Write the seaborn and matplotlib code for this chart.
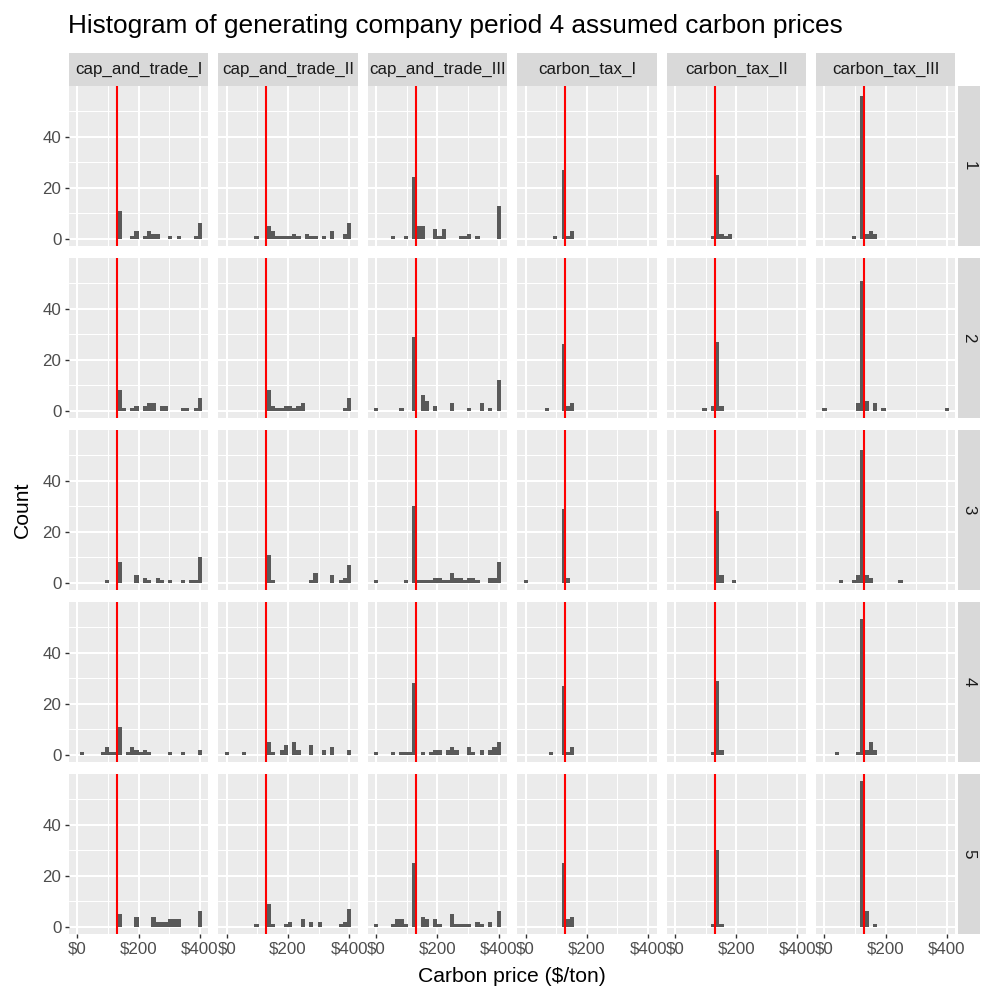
import numpy as np
import pandas as pd
import matplotlib
matplotlib.use("Agg")
import matplotlib.pyplot as plt
import seaborn as sns

# ---- data -------------------------------------------------------------
scenarios = ["cap_and_trade_I", "cap_and_trade_II", "cap_and_trade_III",
             "carbon_tax_I", "carbon_tax_II", "carbon_tax_III"]
periods = [1, 2, 3, 4, 5]

# true period-4 carbon price ($/ton), drawn as the red reference line
actual_price = 129

# histogram layout: 30 equal bins whose centres run from $0 to $400
n_bins = 30
price_min, price_max = 0, 400

# counts of assumed prices per bin index (0..29), keyed by period
cap_and_trade_I = {
    1: {10: 11, 13: 1, 14: 3, 16: 1, 17: 3, 18: 2, 19: 2, 22: 1, 24: 1, 28: 1, 29: 6},
    2: {10: 8, 11: 1, 13: 1, 14: 2, 16: 2, 17: 3, 18: 3, 20: 2, 21: 2, 25: 1, 26: 1, 28: 1, 29: 5},
    3: {7: 1, 10: 8, 14: 3, 16: 2, 17: 1, 19: 2, 20: 1, 22: 1, 25: 1, 27: 1, 28: 1, 29: 10},
    4: {1: 1, 6: 1, 7: 3, 8: 1, 9: 1, 10: 11, 12: 1, 13: 3, 14: 2, 15: 1, 16: 2, 17: 1, 22: 1, 25: 1, 29: 2},
    5: {10: 5, 14: 4, 18: 4, 19: 2, 20: 2, 21: 2, 22: 3, 23: 3, 24: 3, 29: 6},
}
cap_and_trade_II = {
    1: {7: 1, 10: 5, 11: 3, 12: 1, 13: 1, 14: 1, 15: 1, 16: 2, 17: 1, 19: 2, 20: 1, 21: 1, 23: 1, 25: 3, 28: 2, 29: 6},
    2: {10: 8, 11: 2, 12: 1, 13: 1, 14: 2, 15: 2, 16: 1, 17: 2, 18: 3, 28: 1, 29: 5},
    3: {10: 11, 11: 1, 20: 1, 21: 4, 25: 3, 27: 1, 28: 2, 29: 7},
    4: {0: 1, 4: 1, 10: 5, 11: 1, 13: 2, 14: 4, 16: 5, 17: 2, 20: 4, 23: 2, 25: 3, 29: 2},
    5: {7: 1, 10: 9, 11: 1, 14: 1, 15: 2, 18: 3, 20: 2, 22: 2, 27: 1, 28: 2, 29: 7},
}
cap_and_trade_III = {
    1: {4: 1, 7: 1, 9: 24, 10: 5, 11: 5, 14: 4, 15: 1, 16: 4, 20: 1, 21: 1, 22: 2, 24: 1, 29: 13},
    2: {0: 1, 6: 1, 9: 29, 11: 6, 12: 4, 14: 2, 18: 3, 22: 1, 25: 3, 27: 1, 29: 12},
    3: {0: 1, 7: 1, 9: 30, 10: 1, 11: 1, 12: 1, 13: 1, 14: 2, 15: 2, 16: 1, 17: 1, 18: 4, 19: 2,
        20: 2, 21: 1, 22: 2, 23: 2, 24: 1, 27: 2, 28: 2, 29: 8},
    4: {0: 1, 4: 1, 6: 1, 7: 1, 8: 1, 9: 28, 11: 1, 13: 1, 14: 2, 15: 2, 17: 2, 18: 3, 19: 2,
        22: 3, 23: 1, 25: 2, 27: 2, 28: 3, 29: 5},
    5: {0: 1, 4: 1, 5: 3, 6: 3, 7: 1, 9: 25, 11: 4, 12: 3, 14: 3, 15: 1, 18: 5, 19: 1, 20: 1,
        21: 1, 22: 1, 24: 2, 25: 1, 27: 2, 29: 6},
}
carbon_tax_I = {
    1: {7: 1, 9: 27, 10: 1, 11: 3},
    2: {5: 1, 9: 26, 10: 2, 11: 3},
    3: {0: 1, 9: 29, 10: 2},
    4: {6: 1, 9: 27, 10: 1, 11: 3},
    5: {9: 25, 10: 3, 11: 4},
}
carbon_tax_II = {
    1: {9: 1, 10: 25, 11: 2, 12: 1, 13: 2},
    2: {7: 1, 9: 2, 10: 27, 11: 2},
    3: {10: 28, 11: 3, 14: 1},
    4: {9: 1, 10: 29, 11: 2},
    5: {9: 1, 10: 30, 11: 1},
}
carbon_tax_III = {
    1: {7: 1, 9: 56, 10: 2, 11: 3, 12: 2},
    2: {0: 1, 8: 3, 9: 51, 10: 4, 12: 3, 14: 1, 29: 1},
    3: {4: 1, 7: 1, 8: 3, 9: 52, 10: 3, 11: 2, 18: 1},
    4: {3: 1, 8: 1, 9: 53, 10: 2, 11: 5, 12: 2},
    5: {9: 57, 10: 6, 12: 1},
}

x_breaks = [0, 200, 400]
x_labels = ["$0", "$200", "$400"]
y_breaks = [0, 20, 40]

title = "Histogram of generating company period 4 assumed carbon prices"
x_title = "Carbon price ($/ton)"
y_title = "Count"

# ---- one row per assumed price ------------------------------------------
bin_width = (price_max - price_min) / (n_bins - 1)
tables = dict(zip(scenarios, [cap_and_trade_I, cap_and_trade_II, cap_and_trade_III,
                              carbon_tax_I, carbon_tax_II, carbon_tax_III]))
rows = []
for scen, by_period in tables.items():
    for per, bins in by_period.items():
        for k, n in bins.items():
            rows.extend([{"scenario": scen, "period": per,
                          "price": price_min + k * bin_width}] * n)
df = pd.DataFrame(rows)
edges = [price_min + (i - 0.5) * bin_width for i in range(n_bins + 1)]

# ggplot-like limits (5 % expansion)
span = edges[-1] - edges[0]
xlim = (edges[0] - 0.05 * span, edges[-1] + 0.05 * span)
ymax = df.groupby(["scenario", "period", "price"]).size().max()
ylim = (-0.05 * ymax, 1.05 * ymax)

# ---- styling ------------------------------------------------------------
sns.set_theme(style="darkgrid", rc={"axes.facecolor": "#EBEBEB",
                                   "grid.color": "white"})
plt.rcParams["font.family"] = ["Liberation Sans", "DejaVu Sans"]

W, H = 982, 991
fig = plt.figure(figsize=(W / 100, H / 100), dpi=100)
fig.patch.set_facecolor("white")


def px_axes(x0, y0, x1, y1):
    return fig.add_axes([x0 / W, 1 - y1 / H, (x1 - x0) / W, (y1 - y0) / H])


panel_left, panel_w, col_step = 69.0, 139.3, 149.4
panel_top, panel_h, row_step = 86.0, 160.0, 172.0
strip_top_h = 33.0
strip_right_x0, strip_right_x1 = 958.0, 980.0

TICK_FS = 12.2
STRIP_FS = 12.2
tick_color = "#4D4D4D"

for r, per in enumerate(periods):
    for c, scen in enumerate(scenarios):
        x0 = panel_left + c * col_step
        y0 = panel_top + r * row_step
        ax = px_axes(x0, y0, x0 + panel_w, y0 + panel_h)
        sub = df[(df["scenario"] == scen) & (df["period"] == per)]
        sns.histplot(data=sub, x="price", bins=edges, ax=ax,
                     color="#595959", alpha=1, edgecolor="none", linewidth=0)
        ax.axvline(actual_price, color="#FF0000", lw=1.5, zorder=5)

        ax.set_xlim(*xlim)
        ax.set_ylim(*ylim)
        ax.set_xticks(x_breaks)
        ax.set_xticks([100, 300], minor=True)
        ax.set_yticks(y_breaks)
        ax.set_yticks([10, 30, 50], minor=True)
        ax.grid(which="major", color="white", lw=1.45)
        ax.grid(which="minor", color="white", lw=0.75)
        ax.set_axisbelow(True)
        for s in ax.spines.values():
            s.set_visible(False)
        ax.set_xlabel("")
        ax.set_ylabel("")

        ax.tick_params(which="minor", length=0)
        ax.tick_params(which="major", length=3, width=1.0, color="#333333",
                       labelsize=TICK_FS, labelcolor=tick_color, pad=2.5)
        if c == 0:
            ax.set_yticklabels([str(v) for v in y_breaks])
            ax.tick_params(axis="y", left=True)
        else:
            ax.tick_params(axis="y", left=False, labelleft=False)
        if r == len(periods) - 1:
            ax.set_xticklabels(x_labels)
            ax.tick_params(axis="x", bottom=True)
        else:
            ax.tick_params(axis="x", bottom=False, labelbottom=False)

        # column strips
        if r == 0:
            sax = px_axes(x0, y0 - strip_top_h, x0 + panel_w, y0)
            sax.set_facecolor("#D9D9D9")
            sax.set_xticks([]); sax.set_yticks([])
            for s in sax.spines.values():
                s.set_visible(False)
            sax.text(0.5, 0.5, scen, ha="center", va="center",
                     fontsize=STRIP_FS, color="#1A1A1A", transform=sax.transAxes)
    # row strip
    y0 = panel_top + r * row_step
    rax = px_axes(strip_right_x0, y0, strip_right_x1, y0 + panel_h)
    rax.set_facecolor("#D9D9D9")
    rax.set_xticks([]); rax.set_yticks([])
    for s in rax.spines.values():
        s.set_visible(False)
    rax.text(0.5, 0.5, str(per), ha="center", va="center", rotation=-90,
             fontsize=STRIP_FS, color="#1A1A1A", transform=rax.transAxes)

fig.text(68 / W, 1 - 33 / H, title, ha="left", va="baseline",
         fontsize=18.9, color="black")
fig.text(512 / W, 1 - 977 / H, x_title, ha="center", va="center",
         fontsize=15.2, color="black")
fig.text(22 / W, 1 - 510 / H, y_title, ha="center", va="center",
         rotation=90, fontsize=15.2, color="black")

fig.savefig("out.png", dpi=100)
